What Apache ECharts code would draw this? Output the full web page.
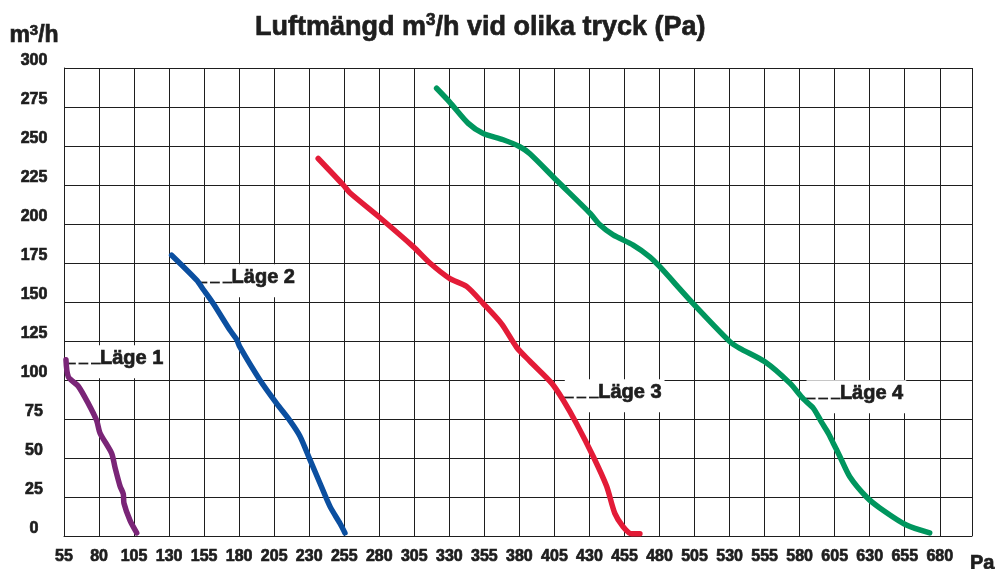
<!DOCTYPE html>
<html>
<head>
<meta charset="utf-8">
<title>Luftmängd</title>
<script src="https://cdn.jsdelivr.net/npm/echarts@6/dist/echarts.min.js"></script>
<style>
  html, body { margin: 0; padding: 0; background: #fff; }
  #chart { width: 998px; height: 569px; }
</style>
</head>
<body>
<div id="chart"></div>
<script>
// tryck (Pa), luftmängd (m3/h) per läge
var laege1 = [[56.4, 113], [58.1, 102], [65.2, 96], [72.3, 85], [78.3, 74], [80.7, 66], [89, 53], [91.4, 44], [95, 32], [97.3, 27], [97.8, 21], [102.1, 10], [106.9, 2]]
var laege2 = [[131.8, 180], [149.7, 164], [154.4, 158], [161.5, 149], [173.4, 132], [178.2, 126], [180.6, 121], [194.8, 100], [206.7, 85], [216.2, 74], [223.4, 64], [230.5, 49], [237.6, 34], [244.8, 19], [252, 8], [255.5, 2]]
var laege3 = [[236.4, 242], [254.3, 225], [259, 220], [280.5, 204], [304.2, 185.5], [316.1, 175], [330.4, 165], [342.3, 160], [354.2, 149], [367.3, 136], [378, 121], [387.5, 112], [403, 98], [411.3, 87], [420.8, 72], [432.7, 51], [442.2, 32], [448.1, 14.5], [454, 6], [460, 1.5], [466, 1.5]]
var laege4 = [[320.9, 287], [330.4, 278], [343.5, 264.5], [354.2, 258], [368.4, 254], [380.3, 249.5], [387.5, 245], [406.5, 228], [430.3, 207], [437.4, 199.5], [446.9, 193], [461.2, 186.5], [473, 179], [480.2, 172.6], [504, 149], [530.2, 124.6], [537.3, 120.3], [555.2, 111.7], [573, 98], [582.5, 88], [589.7, 82], [595.6, 73], [600.4, 66], [604, 59.5], [608.7, 51], [615.8, 38], [627.7, 25], [637.2, 18], [656.2, 7], [672.8, 2]]

// etiketter: [tryck, luftmängd, text]
var labels = [[56.9, 114.3, 'Läge 1'], [150.8, 166.2, 'Läge 2'], [412.4, 92.5, 'Läge 3'], [584.9, 91.9, 'Läge 4']]

var xMin = 55
var xMax = 703
var xStep = 25
var yMax = 300
var yStep = 25

var colors = ['#7a2577', '#0b4fa0', '#e31b37', '#00965e']
var font = 'Liberation Sans, Arial, Helvetica, sans-serif'
var ink = '#1e1e1e'

// tjockare text, originalet har en mycket fet stil
function heavy(size, extra) {
  return Object.assign({
    fontFamily: font,
    fontWeight: 'bold',
    fontSize: size,
    color: ink,
    textBorderColor: ink,
    textBorderWidth: 0.7
  }, extra || {})
}

var chart = echarts.init(document.getElementById('chart'))

function lineSeries(name, data, color) {
  return {
    name: name,
    type: 'line',
    data: data,
    smooth: 0.25,
    symbol: 'none',
    z: 3,
    lineStyle: { color: color, width: 5.5, cap: 'round', join: 'round' }
  }
}

chart.setOption({
  animation: false,
  backgroundColor: '#fff',
  title: {
    text: '{a|Luftmängd m}{s|3}{a|/h vid olika tryck (Pa)}',
    left: 250,
    top: 7,
    textStyle: {
      rich: {
        a: heavy(27, { lineHeight: 32 }),
        s: heavy(17, { verticalAlign: 'top', lineHeight: 32 })
      }
    }
  },
  grid: {
    left: 64,
    right: 26,
    top: 68,
    bottom: 33,
    outerBoundsMode: 'none'
  },
  xAxis: {
    type: 'value',
    min: xMin,
    max: xMax,
    interval: xStep,
    name: 'Pa',
    nameLocation: 'end',
    nameGap: -2,
    nameTextStyle: heavy(20, {
      align: 'left',
      verticalAlign: 'top',
      padding: [17, 0, 0, 0]
    }),
    axisLine: { show: true, lineStyle: { color: ink, width: 1 } },
    axisTick: { show: false },
    axisLabel: heavy(16, {
      margin: 13,
      showMaxLabel: false
    }),
    splitLine: { show: true, lineStyle: { color: ink, width: 1 } }
  },
  yAxis: {
    type: 'value',
    min: 0,
    max: yMax,
    interval: yStep,
    name: '{a|m}{s|3}{a|/h}',
    nameLocation: 'end',
    nameGap: 19,
    nameTextStyle: {
      align: 'center',
      padding: [0, 0, 0, -60],
      rich: {
        a: heavy(23, { lineHeight: 26 }),
        s: heavy(15, { verticalAlign: 'top', lineHeight: 26 })
      }
    },
    axisLine: { show: true, lineStyle: { color: ink, width: 1 } },
    axisTick: { show: false },
    axisLabel: heavy(16, {
      margin: 30,
      align: 'center',
      verticalAlign: 'bottom',
      lineHeight: 14
    }),
    splitLine: { show: true, lineStyle: { color: ink, width: 1 } }
  },
  series: [
    {
      type: 'scatter',
      symbolSize: 0,
      z: 2,
      itemStyle: { opacity: 1 },
      data: labels.map(function (l) { return { value: [l[0], l[1]], name: l[2] } }),
      label: {
        show: true,
        opacity: 1,
        position: 'right',
        distance: 0,
        offset: [0, 4],
        backgroundColor: '#fff',
        padding: [3, 3, 10, 0],
        formatter: function (p) { return '{d|_ _ _}{t|' + p.name + '}' },
        rich: {
          d: heavy(15, { textBorderWidth: 1.2 }),
          t: heavy(20)
        }
      }
    },
    lineSeries('Läge 1', laege1, colors[0]),
    lineSeries('Läge 2', laege2, colors[1]),
    lineSeries('Läge 3', laege3, colors[2]),
    lineSeries('Läge 4', laege4, colors[3])
  ]
})
</script>
</body>
</html>
